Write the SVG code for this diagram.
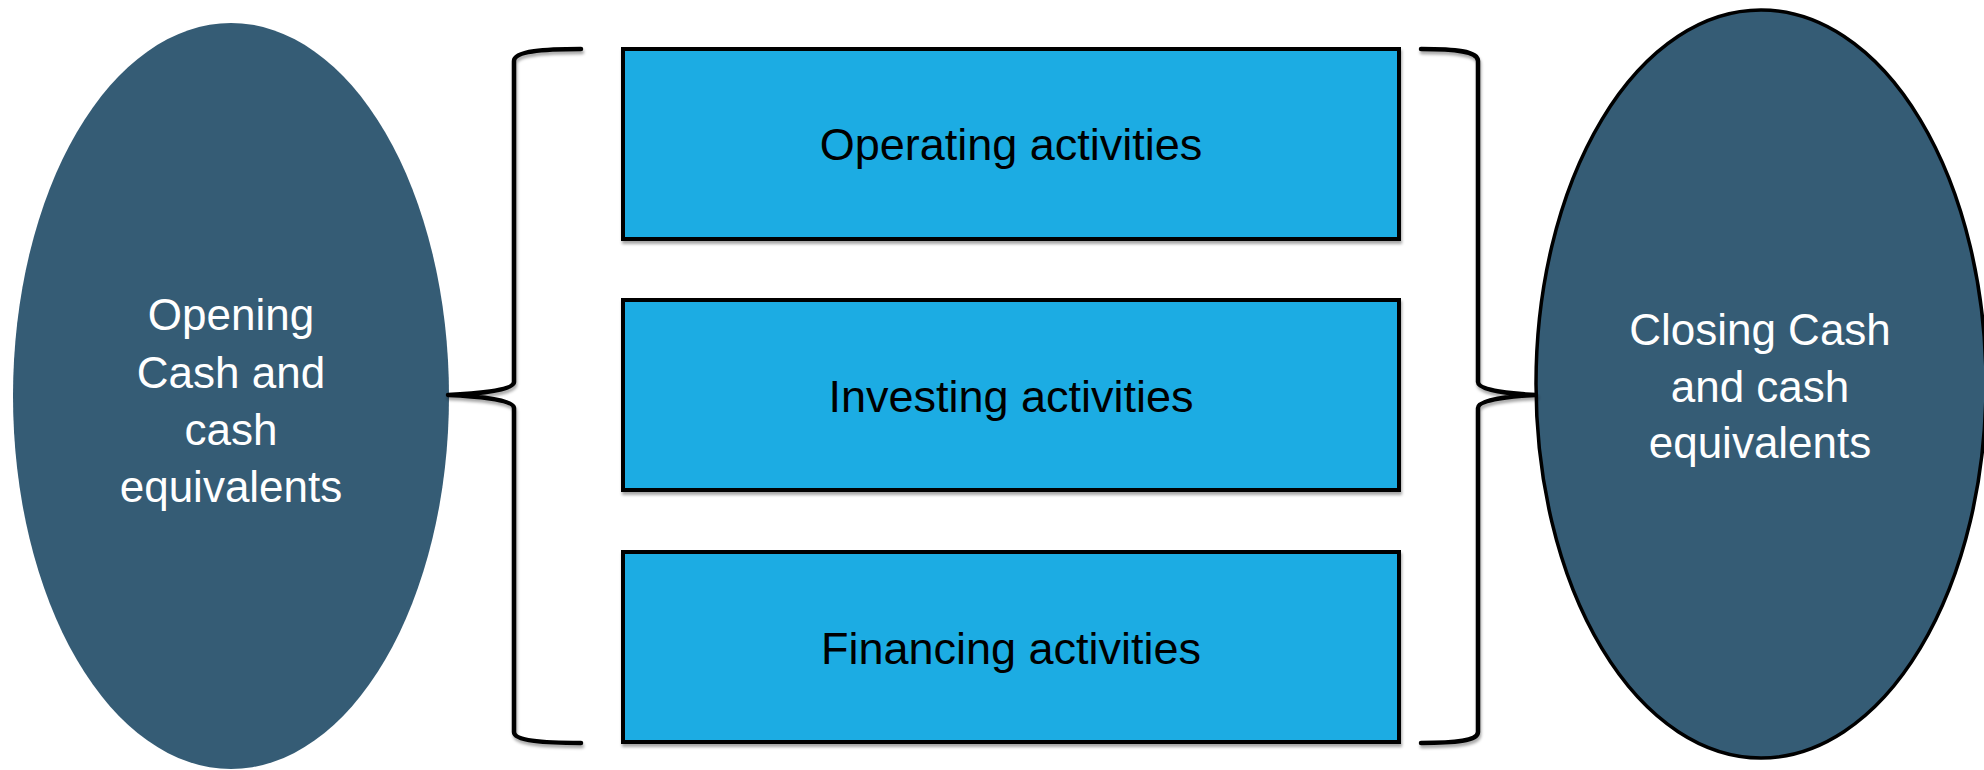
<svg xmlns="http://www.w3.org/2000/svg" width="1984" height="770" viewBox="0 0 1984 770">
<style>
.oval{fill:#355c75}
.oval-s{stroke:#000;stroke-width:3.5}
.box{fill:#1face3;stroke:#000;stroke-width:4}
.wt{fill:#fff;font-family:"Liberation Sans",Arial,sans-serif;font-size:44px;text-anchor:middle}
.bt{fill:#000;font-family:"Liberation Sans",Arial,sans-serif;font-size:45px;text-anchor:middle}
.brace{fill:none;stroke:#000;stroke-width:4.5;stroke-linecap:round;stroke-linejoin:round}
</style>
<defs>
<filter id="sh" x="-5%" y="-5%" width="110%" height="110%">
<feDropShadow dx="1" dy="3" stdDeviation="1.5" flood-color="#000" flood-opacity="0.35"/>
</filter>
</defs>
<rect width="1984" height="770" fill="#fff"/>
<g id="opening">
<ellipse class="oval" cx="231" cy="396" rx="218" ry="373"/>
<text class="wt" x="231" y="330">Opening</text>
<text class="wt" x="231" y="388">Cash and</text>
<text class="wt" x="231" y="445">cash</text>
<text class="wt" x="231" y="502">equivalents</text>
</g>
<g id="closing">
<ellipse class="oval oval-s" cx="1761" cy="384" rx="225" ry="374"/>
<text class="wt" x="1760" y="345">Closing Cash</text>
<text class="wt" x="1760" y="402">and cash</text>
<text class="wt" x="1760" y="458">equivalents</text>
</g>
<g id="operating">
<rect class="box" x="623" y="49" width="776" height="190" filter="url(#sh)"/>
<text class="bt" x="1011" y="160">Operating activities</text>
</g>
<g id="investing">
<rect class="box" x="623" y="300" width="776" height="190" filter="url(#sh)"/>
<text class="bt" x="1011" y="412">Investing activities</text>
</g>
<g id="financing">
<rect class="box" x="623" y="552" width="776" height="190" filter="url(#sh)"/>
<text class="bt" x="1011" y="664">Financing activities</text>
</g>
<g id="connectors" filter="url(#sh)">
<path class="brace" d="M581,49 C545,49 514,51 514,61 L514,382 C514,391 472,394 448,395 C472,396 514,399 514,408 L514,732 C514,741 545,743 581,743"/>
<path class="brace" d="M1421,49 C1455,49 1478,51 1478,61 L1478,382 C1478,391 1515,394 1536,395 C1515,396 1478,399 1478,408 L1478,732 C1478,741 1455,743 1421,743"/>
</g>
</svg>
